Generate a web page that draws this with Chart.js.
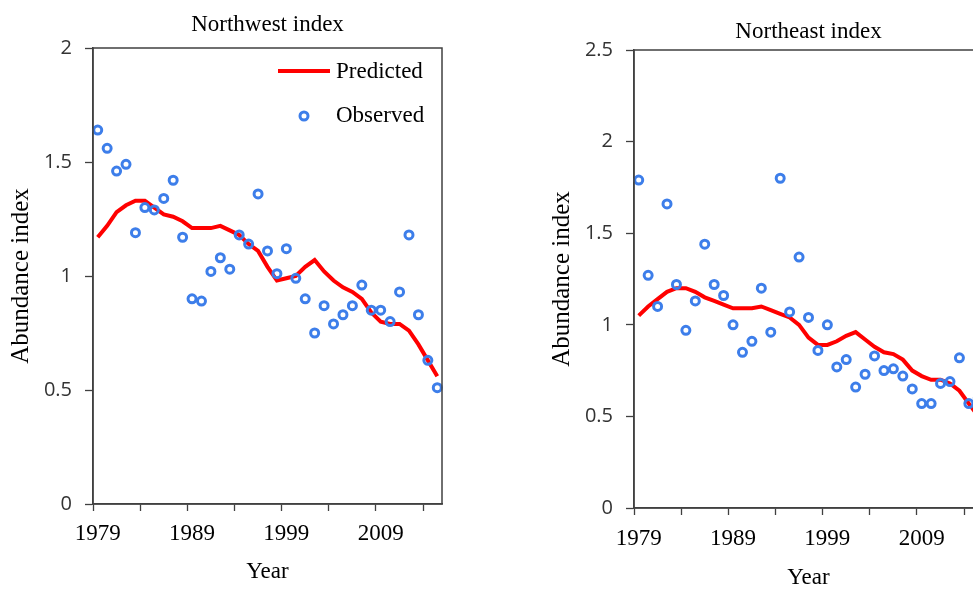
<!DOCTYPE html>
<html>
<head>
<meta charset="utf-8">
<script src="https://cdn.jsdelivr.net/npm/chart.js@4"></script>
<style>
  html, body { margin: 0; padding: 0; background: #fff; overflow: hidden; width: 973px; height: 590px; }
  #nw { position: absolute; left: 0; top: 0; }
  #ne { position: absolute; left: 544px; top: 4px; }
</style>
</head>
<body>
<canvas id="nw" width="480" height="590"></canvas>
<canvas id="ne" width="500" height="590"></canvas>
<script>
// years on the category axis
const years = [1979, 1980, 1981, 1982, 1983, 1984, 1985, 1986, 1987, 1988,
  1989, 1990, 1991, 1992, 1993, 1994, 1995, 1996, 1997, 1998,
  1999, 2000, 2001, 2002, 2003, 2004, 2005, 2006, 2007, 2008,
  2009, 2010, 2011, 2012, 2013, 2014, 2015];

// Northwest index
const nwObserved = [1.64, 1.56, 1.46, 1.49, 1.19, 1.30, 1.29, 1.34, 1.42, 1.17,
  0.90, 0.89, 1.02, 1.08, 1.03, 1.18, 1.14, 1.36, 1.11, 1.01,
  1.12, 0.99, 0.90, 0.75, 0.87, 0.79, 0.83, 0.87, 0.96, 0.85,
  0.85, 0.80, 0.93, 1.18, 0.83, 0.63, 0.51];
const nwPredicted = [1.17, 1.22, 1.28, 1.31, 1.33, 1.33, 1.30, 1.27, 1.26, 1.24,
  1.21, 1.21, 1.21, 1.22, 1.20, 1.18, 1.14, 1.11, 1.04, 0.98,
  0.99, 1.00, 1.04, 1.07, 1.02, 0.98, 0.95, 0.93, 0.90, 0.84,
  0.80, 0.79, 0.79, 0.76, 0.70, 0.63, 0.56];

// Northeast index
const neObserved = [1.79, 1.27, 1.10, 1.66, 1.22, 0.97, 1.13, 1.44, 1.22, 1.16,
  1.00, 0.85, 0.91, 1.20, 0.96, 1.80, 1.07, 1.37, 1.04, 0.86,
  1.00, 0.77, 0.81, 0.66, 0.73, 0.83, 0.75, 0.76, 0.72, 0.65,
  0.57, 0.57, 0.68, 0.69, 0.82, 0.57, 0.60];
const nePredicted = [1.05, 1.10, 1.14, 1.18, 1.20, 1.20, 1.18, 1.15, 1.13, 1.11,
  1.09, 1.09, 1.09, 1.10, 1.08, 1.06, 1.04, 1.00, 0.93, 0.89,
  0.89, 0.91, 0.94, 0.96, 0.92, 0.88, 0.85, 0.84, 0.81, 0.75,
  0.72, 0.70, 0.70, 0.68, 0.64, 0.57, 0.50];

const serif = '"Liberation Serif", "Times New Roman", serif';
const axisColor = '#404040';
const red = '#ff0000';
const blue = '#3d7eea';

// box around the plot area
const frame = {
  id: 'frame',
  afterDraw(chart) {
    const a = chart.chartArea;
    const ctx = chart.ctx;
    ctx.save();
    ctx.strokeStyle = axisColor;
    ctx.lineWidth = 1.5;
    ctx.strokeRect(a.left, a.top, a.right - a.left, a.bottom - a.top);
    ctx.restore();
  }
};

// legend drawn inside the plot, top right
const insideLegend = {
  id: 'insideLegend',
  afterDraw(chart, args, opts) {
    if (!opts.display) return;
    const a = chart.chartArea;
    const ctx = chart.ctx;
    const pred = chart.data.datasets[0];
    const obs = chart.data.datasets[1];
    const x0 = a.right - 164, x1 = a.right - 112, tx = a.right - 106;
    const y0 = a.top + 23, y1 = a.top + 68;
    ctx.save();
    ctx.strokeStyle = pred.borderColor;
    ctx.lineWidth = pred.borderWidth;
    ctx.beginPath();
    ctx.moveTo(x0, y0);
    ctx.lineTo(x1, y0);
    ctx.stroke();
    ctx.strokeStyle = obs.pointBorderColor;
    ctx.lineWidth = obs.pointBorderWidth;
    ctx.beginPath();
    ctx.arc((x0 + x1) / 2, y1, obs.pointRadius, 0, Math.PI * 2);
    ctx.stroke();
    ctx.fillStyle = '#000';
    ctx.font = '23px ' + serif;
    ctx.textBaseline = 'middle';
    ctx.fillText(pred.label, tx, y0 + 1);
    ctx.fillText(obs.label, tx, y1);
    ctx.restore();
  }
};

function buildChart(id, title, observed, predicted, yMax, box) {
  return new Chart(document.getElementById(id), {
    type: 'line',
    data: {
      labels: years,
      datasets: [
        {
          label: 'Predicted',
          data: predicted,
          borderColor: red,
          borderWidth: 4,
          pointRadius: 0,
          tension: 0,
          fill: false,
          order: 1
        },
        {
          label: 'Observed',
          data: observed,
          showLine: false,
          borderColor: blue,
          backgroundColor: 'rgba(0,0,0,0)',
          pointBorderColor: blue,
          pointBackgroundColor: 'rgba(0,0,0,0)',
          pointRadius: 4,
          pointBorderWidth: 3,
          order: 0
        }
      ]
    },
    options: {
      responsive: false,
      animation: false,
      layout: { padding: { left: 0, right: box.padRight, top: 0, bottom: 0 } },
      plugins: {
        legend: { display: false },
        tooltip: { enabled: false },
        title: {
          display: true,
          fullSize: false,
          text: title,
          color: '#000',
          font: { family: serif, size: 23, weight: 'normal' },
          padding: { top: box.titleTop, bottom: box.titleBottom }
        },
        insideLegend: { display: box.legend }
      },
      scales: {
        x: {
          type: 'category',
          offset: true,
          grid: {
            offset: true,
            drawOnChartArea: false,
            tickLength: 7,
            tickWidth: 1.3,
            tickColor: (c) => (c.index !== undefined && c.index % 5 === 0) ? axisColor : 'rgba(0,0,0,0)'
          },
          border: { color: axisColor, width: 1.5 },
          ticks: {
            autoSkip: false,
            maxRotation: 0,
            padding: box.xTickPad,
            color: '#000',
            font: { family: serif, size: 23 },
            callback: (v, i) => (i % 10 === 0 ? String(years[i]) : '')
          },
          title: {
            display: true,
            text: 'Year',
            color: '#000',
            font: { family: serif, size: 23 },
            padding: { top: 0, bottom: box.yearBottom }
          },
          afterFit: (s) => { s.height = 86; }
        },
        y: {
          min: 0,
          max: yMax,
          ticks: {
            stepSize: 0.5,
            padding: 13,
            color: '#333',
            font: { family: '"Open Sans", sans-serif', size: 20 },
            callback: (v) => String(v)
          },
          grid: { drawOnChartArea: false, tickLength: 8, tickColor: axisColor, tickWidth: 1.3 },
          border: { color: axisColor, width: 1.5 },
          title: {
            display: true,
            text: 'Abundance index',
            color: '#000',
            font: { family: serif, size: 25 },
            padding: { top: box.yTitleTop, bottom: 0 }
          },
          afterFit: (s) => { s.width = box.yWidth; }
        }
      }
    },
    plugins: [frame, insideLegend]
  });
}

buildChart('nw', 'Northwest index', nwObserved, nwPredicted, 2, {
  padRight: 38, yWidth: 93, titleTop: 11, titleBottom: 9.4,
  xTickPad: 9, yearBottom: 4, yTitleTop: 6, legend: true
});
buildChart('ne', 'Northeast index', neObserved, nePredicted, 2.5, {
  padRight: 61, yWidth: 90, titleTop: 13.7, titleBottom: 4.7,
  xTickPad: 10, yearBottom: 2, yTitleTop: 3, legend: false
});
</script>
</body>
</html>
